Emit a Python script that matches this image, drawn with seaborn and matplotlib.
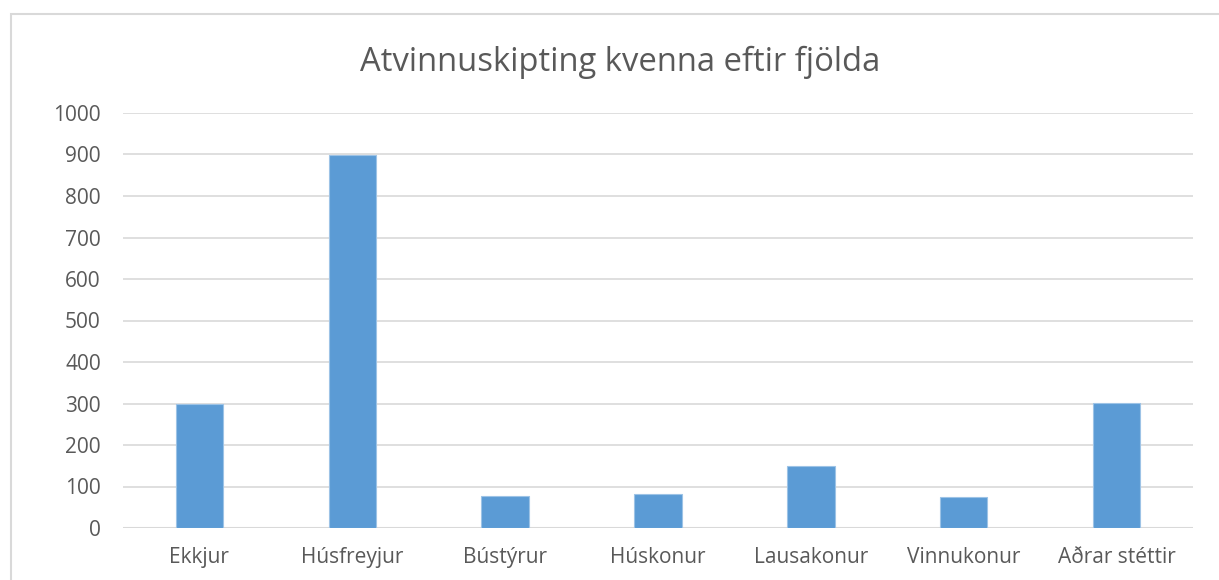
import matplotlib
matplotlib.use("Agg")
import matplotlib.pyplot as plt
import seaborn as sns
from matplotlib.patches import Rectangle

categories = ["Ekkjur", "Húsfreyjur", "Bústýrur", "Húskonur", "Lausakonur", "Vinnukonur", "Aðrar stéttir"]
values = [300, 898, 77, 82, 150, 74, 301]
yticks = list(range(0, 1001, 100))

sns.set_style("white")
plt.rcParams["font.family"] = ["Open Sans", "DejaVu Sans"]

fig = plt.figure(figsize=(12.19, 5.8), dpi=100)
ax = fig.add_axes([123 / 1219, 52 / 580, 1070 / 1219, 415 / 580])

sns.barplot(x=categories, y=values, color="#5B9BD5", width=0.31, saturation=1,
            edgecolor="#9DC3E6", linewidth=0.8, ax=ax, zorder=3)

ax.set_ylim(0, 1000)
ax.set_xlim(-0.5, 6.5)
ax.set_yticks(yticks)
ax.yaxis.grid(True, color="#d9d9d9", linewidth=1.2, zorder=0)
ax.set_axisbelow(True)
for s in ax.spines.values():
    s.set_visible(False)
ax.axhline(0, color="#d9d9d9", linewidth=1.5, zorder=2)
ax.tick_params(axis="x", length=0, labelsize=15, colors="#595959", pad=14)
ax.tick_params(axis="y", length=0, labelsize=15, colors="#595959", pad=16)
ax.set_xlabel("")
ax.set_ylabel("")

fig.text(620 / 1219, 1 - 62 / 580, "Atvinnuskipting kvenna eftir fjölda", ha="center", va="center",
         fontsize=23.6, color="#595959")

fig.patches.append(Rectangle((11 / 1219, -0.1), 1.2, 1 - 14 / 580 + 0.1, transform=fig.transFigure,
                             fill=False, edgecolor="#d9d9d9", linewidth=1.5))

fig.savefig("out.png", dpi=100)
